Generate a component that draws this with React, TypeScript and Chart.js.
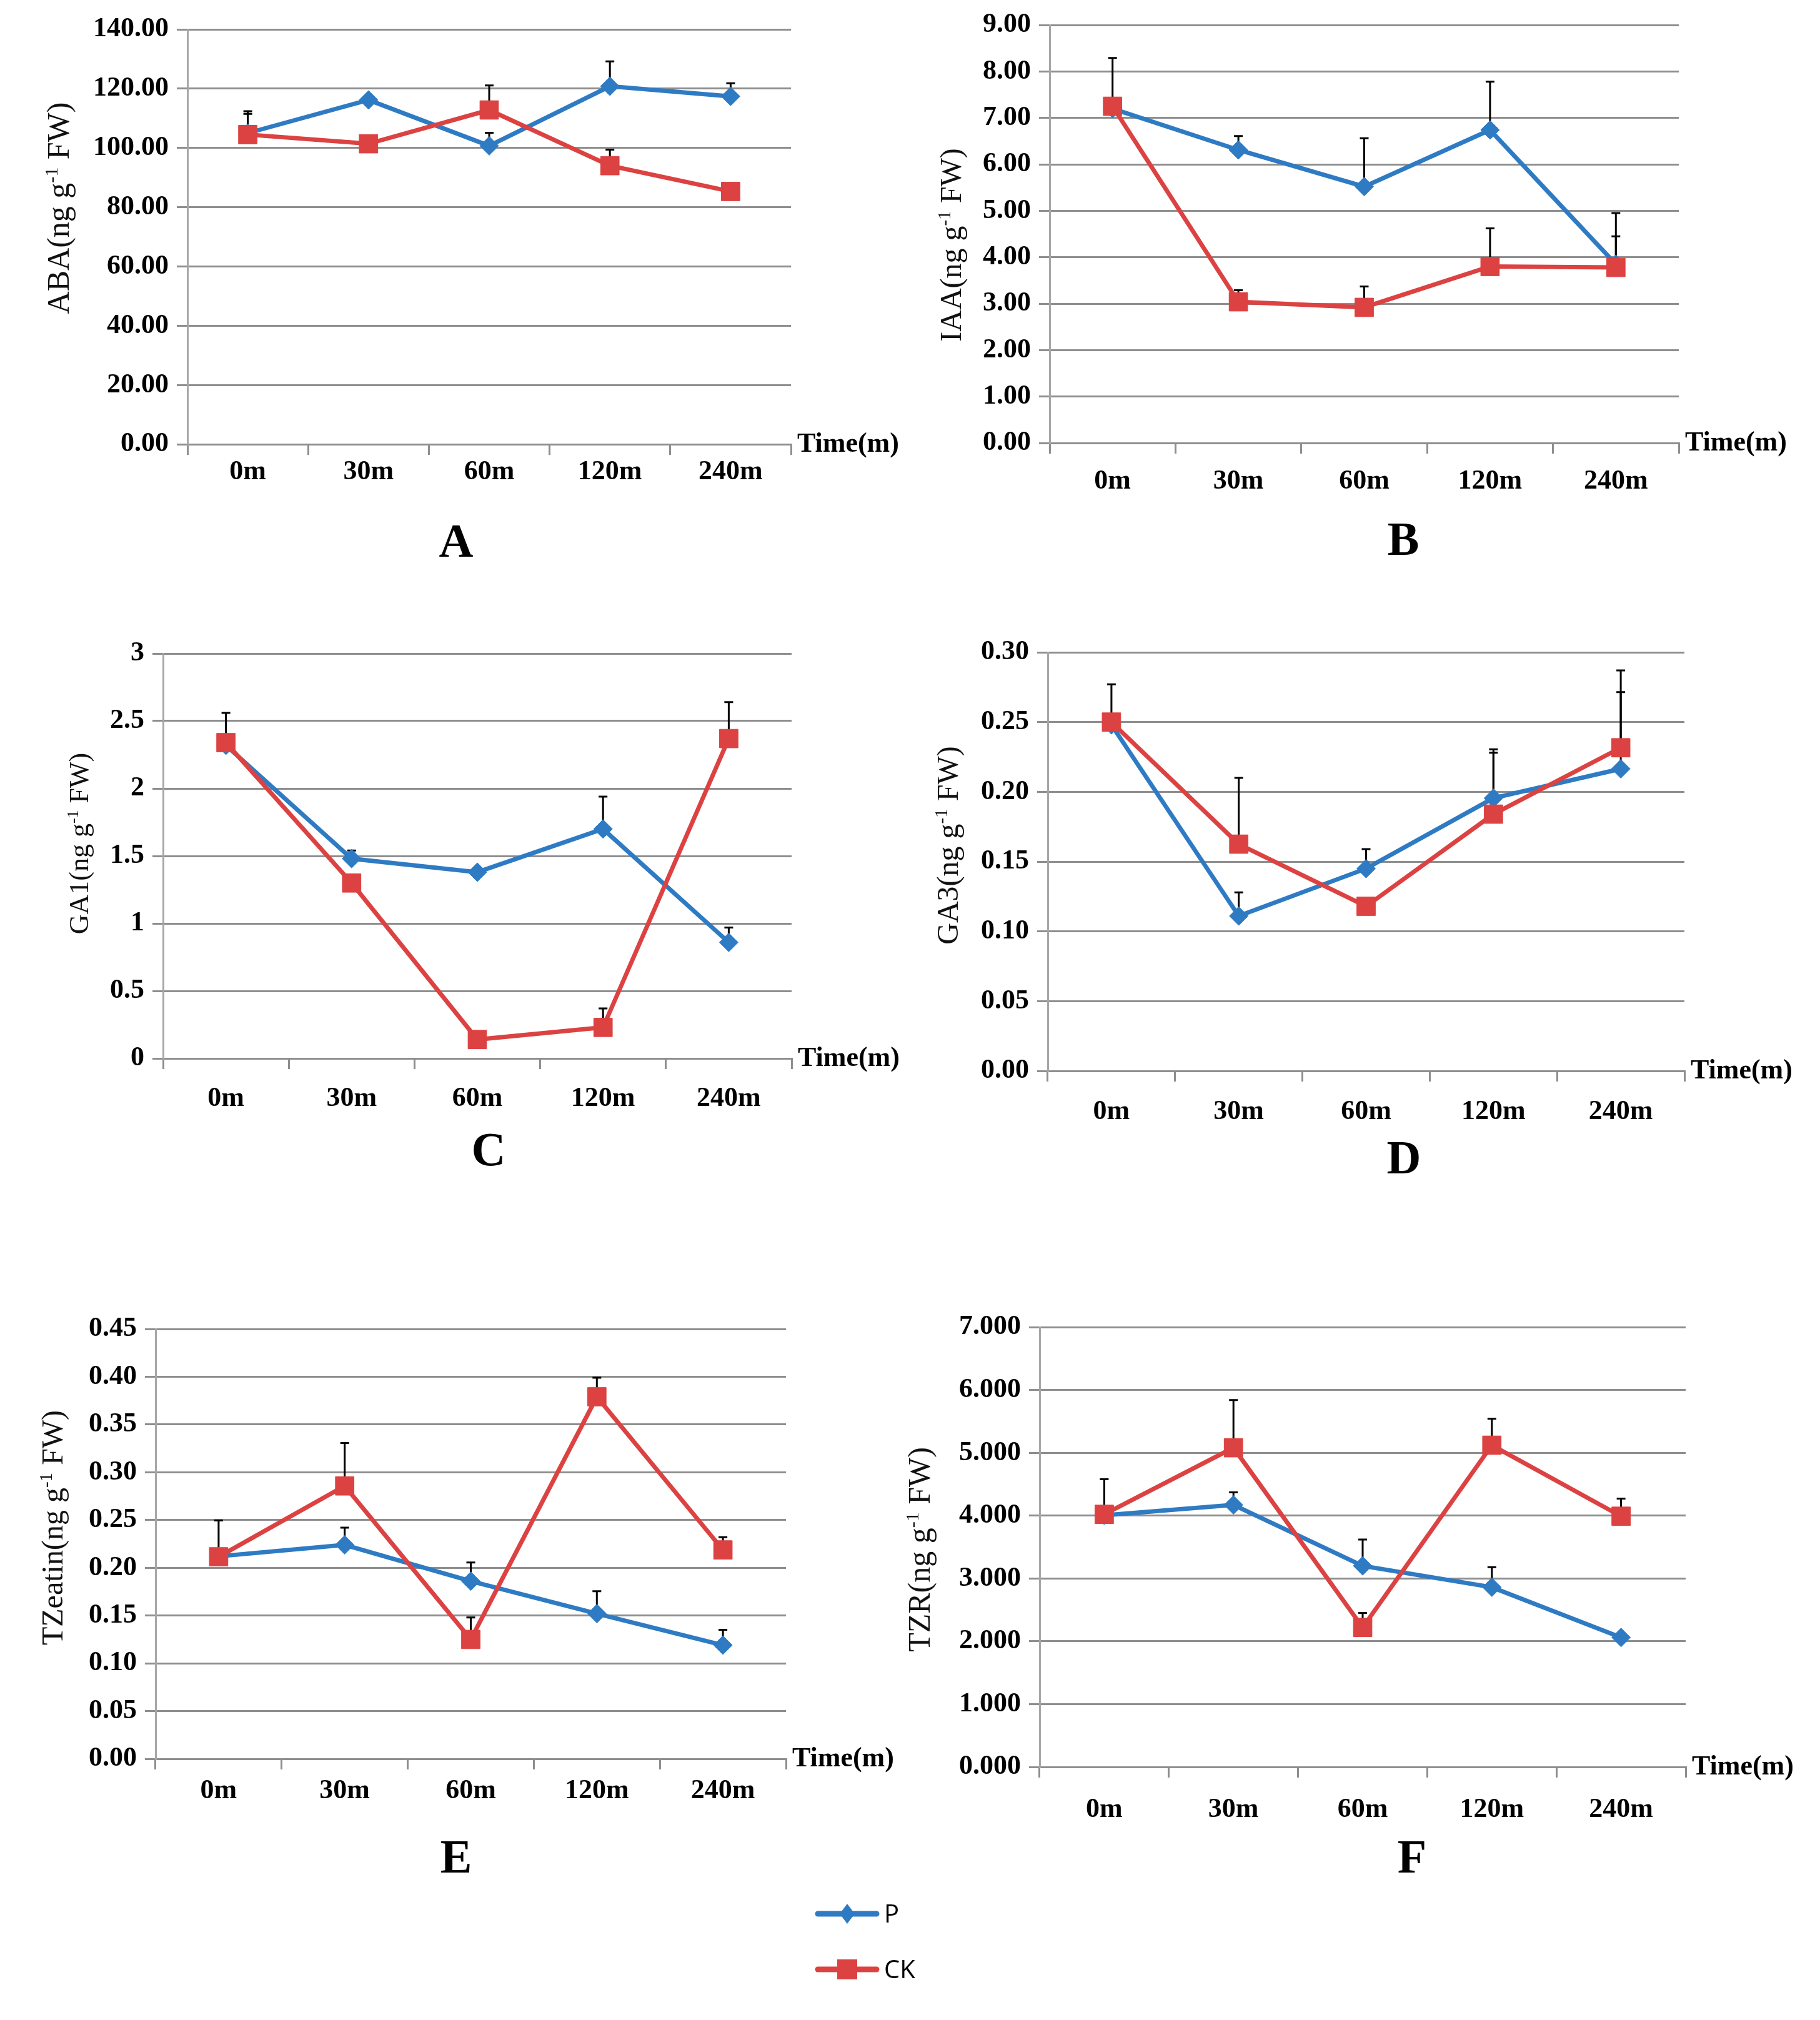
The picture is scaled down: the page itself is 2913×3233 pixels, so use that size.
import React, { useEffect, useRef } from 'react';
import { Chart, registerables } from 'chart.js';

Chart.register(...registerables);

// ---------- data ----------
const categories = ['0m', '30m', '60m', '120m', '240m'];

const abaP = [105.0, 116.2, 100.7, 120.8, 117.4];
const abaPErr = [7.4, 0, 4.4, 8.4, 4.4];
const abaCK = [104.5, 101.4, 112.8, 94.0, 85.3];
const abaCKErr = [7.0, 0, 8.3, 5.4, 0];

const iaaP = [7.2, 6.31, 5.52, 6.74, 3.85];
const iaaPErr = [1.09, 0.3, 1.04, 1.04, 1.1];
const iaaCK = [7.25, 3.04, 2.92, 3.8, 3.78];
const iaaCKErr = [0, 0.25, 0.45, 0.82, 0.67];

const ga1P = [2.32, 1.48, 1.38, 1.7, 0.86];
const ga1PErr = [0.24, 0.06, 0, 0.24, 0.11];
const ga1CK = [2.34, 1.3, 0.14, 0.23, 2.37];
const ga1CKErr = [0, 0, 0, 0.14, 0.27];

const ga3P = [0.248, 0.111, 0.145, 0.1955, 0.2165];
const ga3PErr = [0.029, 0.017, 0.014, 0.0325, 0.055];
const ga3CK = [0.25, 0.1625, 0.118, 0.184, 0.2316];
const ga3CKErr = [0, 0.0475, 0, 0.0465, 0.0554];

const tzeatinP = [0.212, 0.224, 0.186, 0.152, 0.119];
const tzeatinPErr = [0, 0.018, 0.0195, 0.0234, 0.016];
const tzeatinCK = [0.2115, 0.2857, 0.125, 0.379, 0.2187];
const tzeatinCKErr = [0.038, 0.045, 0.023, 0.02, 0.0133];

const tzrP = [4.005, 4.17, 3.2, 2.86, 2.06];
const tzrPErr = [0, 0.2, 0.42, 0.32, 0];
const tzrCK = [4.02, 5.08, 2.22, 5.12, 3.99];
const tzrCKErr = [0.56, 0.76, 0.23, 0.42, 0.28];

const seriesNames = ['P', 'CK'];

// ---------- styles ----------
const SERIF = '"Liberation Serif", "Times New Roman", serif';
const SANS = '"Open Sans", "Liberation Sans", sans-serif';
const BLUE = '#2E7BC4';
const RED = '#DC4242';
const GRID = '#8E8E8E';
const AXIS = '#A6A6A6';

type Panel = {
  letter: string;
  yName: string;
  p: number[];
  pErr: number[];
  ck: number[];
  ckErr: number[];
  yMax: number;
  yStep: number;
  dec: number | null;
  canvas: [number, number, number, number]; // left, top, width, height (page px)
  plot: [number, number, number, number]; // left, top, right, bottom (page px)
  title: [number, number, number]; // cx, cy, size
  letterPos: [number, number];
  xPad: number;
};

const panels: Panel[] = [
  {
    letter: 'A', yName: 'ABA', p: abaP, pErr: abaPErr, ck: abaCK, ckErr: abaCKErr,
    yMax: 140, yStep: 20, dec: 2,
    canvas: [0, 0, 1456, 960], plot: [300, 47, 1266, 711],
    title: [93, 333, 50], letterPos: [730, 866], xPad: 1,
  },
  {
    letter: 'B', yName: 'IAA', p: iaaP, pErr: iaaPErr, ck: iaaCK, ckErr: iaaCKErr,
    yMax: 9, yStep: 1, dec: 2,
    canvas: [1456, 0, 1457, 960], plot: [1680, 40, 2687, 709],
    title: [1522, 392, 48], letterPos: [2246, 863], xPad: 18,
  },
  {
    letter: 'C', yName: 'GA1', p: ga1P, pErr: ga1PErr, ck: ga1CK, ckErr: ga1CKErr,
    yMax: 3, yStep: 0.5, dec: null,
    canvas: [0, 960, 1456, 1000], plot: [261, 1046, 1267, 1694],
    title: [126, 1350, 44], letterPos: [782, 1840], xPad: 21,
  },
  {
    letter: 'D', yName: 'GA3', p: ga3P, pErr: ga3PErr, ck: ga3CK, ckErr: ga3CKErr,
    yMax: 0.3, yStep: 0.05, dec: 2,
    canvas: [1456, 960, 1457, 1000], plot: [1677, 1044, 2696, 1714],
    title: [1517, 1353, 48], letterPos: [2247, 1853], xPad: 22,
  },
  {
    letter: 'E', yName: 'TZeatin', p: tzeatinP, pErr: tzeatinPErr, ck: tzeatinCK, ckErr: tzeatinCKErr,
    yMax: 0.45, yStep: 0.05, dec: 2,
    canvas: [0, 2050, 1456, 1000], plot: [249, 2127, 1258, 2815],
    title: [84, 2445, 48], letterPos: [730, 2972], xPad: 8,
  },
  {
    letter: 'F', yName: 'TZR', p: tzrP, pErr: tzrPErr, ck: tzrCK, ckErr: tzrCKErr,
    yMax: 7, yStep: 1, dec: 3,
    canvas: [1420, 2050, 1493, 1000], plot: [1664, 2124, 2698, 2828],
    title: [1471, 2480, 50], letterPos: [2260, 2972], xPad: 25,
  },
];

function drawYTitle(ctx: CanvasRenderingContext2D, cx: number, cy: number, size: number, name: string) {
  const main = `${size}px ${SERIF}`;
  const sup = `${Math.round(size * 0.6)}px ${SERIF}`;
  const parts: [string, string, number][] = [
    [name + '(ng g', main, 0],
    ['-1', sup, -size * 0.36],
    [' FW)', main, 0],
  ];
  ctx.save();
  ctx.translate(cx, cy);
  ctx.rotate(-Math.PI / 2);
  let total = 0;
  parts.forEach(([t, f]) => {
    ctx.font = f;
    total += ctx.measureText(t).width;
  });
  let x = -total / 2;
  const base = size * 0.33;
  ctx.fillStyle = '#111';
  ctx.textAlign = 'left';
  ctx.textBaseline = 'alphabetic';
  parts.forEach(([t, f, dy]) => {
    ctx.font = f;
    ctx.fillText(t, x, base + dy);
    x += ctx.measureText(t).width;
  });
  ctx.restore();
}

function PanelChart({ panel }: { panel: Panel }) {
  const ref = useRef<HTMLCanvasElement>(null);

  useEffect(() => {
    const canvas = ref.current;
    if (!canvas) return;
    const [cl, ct, cw, ch] = panel.canvas;
    const [pl, pt, pr, pb] = panel.plot;

    const overlay = {
      id: 'overlay',
      beforeDatasetsDraw(chart: any) {
        const ctx: CanvasRenderingContext2D = chart.ctx;
        const xs = chart.scales.x;
        const ys = chart.scales.y;
        ctx.save();
        ctx.strokeStyle = '#000';
        ctx.lineWidth = 3;
        const sets: [number[], number[]][] = [
          [panel.p, panel.pErr],
          [panel.ck, panel.ckErr],
        ];
        sets.forEach(([vals, errs]) => {
          vals.forEach((v, i) => {
            const e = errs[i];
            if (!e) return;
            const px = xs.getPixelForValue(i);
            const y0 = ys.getPixelForValue(v);
            const y1 = ys.getPixelForValue(v + e);
            ctx.beginPath();
            ctx.moveTo(px, y0);
            ctx.lineTo(px, y1);
            ctx.moveTo(px - 7, y1);
            ctx.lineTo(px + 7, y1);
            ctx.stroke();
          });
        });
        ctx.restore();
      },
      afterDraw(chart: any) {
        const ctx: CanvasRenderingContext2D = chart.ctx;
        const area = chart.chartArea;
        ctx.save();
        ctx.fillStyle = '#000';
        ctx.font = `bold 44px ${SERIF}`;
        ctx.textAlign = 'left';
        ctx.textBaseline = 'alphabetic';
        ctx.fillText('Time(m)', area.right + 10, area.bottom + 12);
        ctx.font = `bold 76px ${SERIF}`;
        ctx.textAlign = 'center';
        ctx.fillText(panel.letter, panel.letterPos[0] - cl, panel.letterPos[1] - ct + 25);
        ctx.restore();
        drawYTitle(ctx, panel.title[0] - cl, panel.title[1] - ct, panel.title[2], panel.yName);
      },
    };

    const tickFont = { family: SERIF, size: 44, weight: 'bold' as const };

    const chart = new Chart(canvas, {
      type: 'line',
      data: {
        labels: categories,
        datasets: [
          {
            label: seriesNames[0],
            data: panel.p,
            borderColor: BLUE,
            backgroundColor: BLUE,
            borderWidth: 7,
            pointStyle: 'rectRot',
            pointRadius: 15,
            pointHoverRadius: 15,
            pointBorderWidth: 1,
            pointBorderColor: BLUE,
            pointBackgroundColor: BLUE,
            tension: 0,
            order: 1,
          },
          {
            label: seriesNames[1],
            data: panel.ck,
            borderColor: RED,
            backgroundColor: RED,
            borderWidth: 7,
            pointStyle: 'rect',
            pointRadius: 21,
            pointHoverRadius: 21,
            pointBorderWidth: 1,
            pointBorderColor: RED,
            pointBackgroundColor: RED,
            tension: 0,
            order: 0,
          },
        ],
      },
      options: {
        responsive: false,
        animation: false,
        devicePixelRatio: 1,
        layout: {
          padding: { left: 0, top: pt - ct, right: cl + cw - pr, bottom: 0 },
        },
        plugins: {
          legend: { display: false },
          tooltip: { enabled: false },
          title: { display: false },
        },
        events: [],
        scales: {
          x: {
            type: 'category',
            offset: true,
            grid: {
              offset: true,
              drawOnChartArea: false,
              drawTicks: true,
              tickLength: 17,
              color: GRID,
              lineWidth: 3,
            },
            border: { display: true, color: GRID, width: 3 },
            ticks: {
              font: tickFont,
              color: '#000',
              padding: panel.xPad,
              maxRotation: 0,
              minRotation: 0,
              autoSkip: false,
            },
            afterFit: (s: any) => {
              s.height = ct + ch - pb;
            },
          },
          y: {
            type: 'linear',
            min: 0,
            max: panel.yMax,
            ticks: {
              stepSize: panel.yStep,
              font: tickFont,
              color: '#000',
              padding: 13,
              callback: (v: any) =>
                panel.dec === null ? String(+Number(v).toFixed(2)) : Number(v).toFixed(panel.dec),
            },
            grid: {
              color: GRID,
              lineWidth: 3,
              drawTicks: true,
              tickLength: 17,
            },
            border: { display: true, color: AXIS, width: 3 },
            afterFit: (s: any) => {
              s.width = pl - cl;
            },
          },
        },
      },
      plugins: [overlay],
    });

    return () => {
      chart.destroy();
    };
  }, [panel]);

  const [cl, ct, cw, ch] = panel.canvas;
  return (
    <canvas
      ref={ref}
      width={cw}
      height={ch}
      style={{ position: 'absolute', left: cl, top: ct, width: cw, height: ch }}
    />
  );
}

function Legend() {
  return (
    <>
      <svg
        width={120}
        height={140}
        style={{ position: 'absolute', left: 1300, top: 3040 }}
      >
        <line x1={9} y1={23} x2={103} y2={23} stroke={BLUE} strokeWidth={9} strokeLinecap="round" />
        <polygon points="56,7 68,23 56,39 44,23" fill={BLUE} />
        <line x1={9} y1={112} x2={103} y2={112} stroke={RED} strokeWidth={9} strokeLinecap="round" />
        <rect x={40} y={96} width={32} height={32} fill={RED} />
      </svg>
      <div
        style={{
          position: 'absolute',
          left: 1415,
          top: 3063 - 21,
          fontFamily: SANS,
          fontSize: 40,
          lineHeight: '40px',
          color: '#000',
        }}
      >
        {seriesNames[0]}
      </div>
      <div
        style={{
          position: 'absolute',
          left: 1415,
          top: 3152 - 21,
          fontFamily: SANS,
          fontSize: 40,
          lineHeight: '40px',
          color: '#000',
        }}
      >
        {seriesNames[1]}
      </div>
    </>
  );
}

export default function App() {
  return (
    <div
      style={{
        position: 'absolute',
        left: 0,
        top: 0,
        width: 2913,
        height: 3233,
        background: '#fff',
        overflow: 'hidden',
      }}
    >
      {panels.map((p) => (
        <PanelChart key={p.letter} panel={p} />
      ))}
      <Legend />
    </div>
  );
}
